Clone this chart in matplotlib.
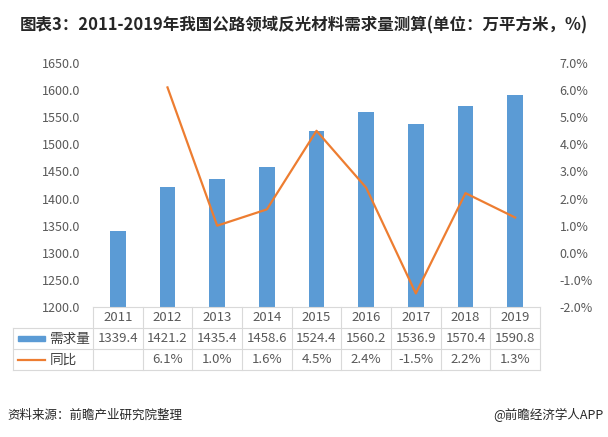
import matplotlib
matplotlib.use('Agg')
import matplotlib.pyplot as plt
import matplotlib.transforms as mtransforms
from matplotlib.patches import Rectangle
from matplotlib.lines import Line2D
import numpy as np

plt.rcParams['font.family'] = ['Noto Sans CJK SC', 'DejaVu Sans']

years = ['2011', '2012', '2013', '2014', '2015', '2016', '2017', '2018', '2019']
demand = [1339.4, 1421.2, 1435.4, 1458.6, 1524.4, 1560.2, 1536.9, 1570.4, 1590.8]
growth = [None, 6.1, 1.0, 1.6, 4.5, 2.4, -1.5, 2.2, 1.3]

BLUE = '#5B9BD5'
ORANGE = '#ED7D31'
GRID = '#D9D9D9'
TXT = '#595959'

W, H = 608, 437
fig = plt.figure(figsize=(W / 100, H / 100), dpi=100)
fig.patch.set_facecolor('white')

# plot area in pixels: x 93..540, y 63..307
ax = fig.add_axes([93 / W, 1 - 307 / H, (540 - 93) / W, (307 - 63) / H])
x = np.arange(len(years))
ax.bar(x, demand, width=0.32, color=BLUE, zorder=2)
ax.set_xlim(-0.5, len(years) - 0.5)
ax.set_ylim(1200, 1650)
ax.set_yticks(np.arange(1200, 1651, 50))
ax.set_yticklabels(['%.1f' % v for v in np.arange(1200, 1651, 50)])
ax.set_xticks([])
ax.tick_params(axis='y', length=0, pad=9, labelsize=9, labelcolor=TXT)
for s in ax.spines.values():
    s.set_visible(False)

ax2 = ax.twinx()
gx = [i for i, g in enumerate(growth) if g is not None]
gy = [g for g in growth if g is not None]
ax2.plot(gx, gy, color=ORANGE, lw=1.6, zorder=3)
ax2.set_ylim(-2, 7)
ax2.set_yticks(np.arange(-2, 7.1, 1))
ax2.set_yticklabels(['%.1f%%' % v for v in np.arange(-2, 7.1, 1)])
ax2.tick_params(axis='y', length=0, pad=14, labelsize=9, labelcolor=TXT)
for s in ax2.spines.values():
    s.set_visible(False)

# data table below the axis
tr = mtransforms.blended_transform_factory(ax.transData, ax.transAxes)
ah = (307 - 63)
rows = [0, -21 / ah, -42 / ah, -63 / ah]
left = -0.5 - 80 / 49.67
right = len(years) - 0.5
kw = dict(transform=tr, clip_on=False, color=GRID, lw=0.8)
ax.add_line(Line2D([-0.5, right], [rows[0], rows[0]], **kw))
for r in rows[1:]:
    ax.add_line(Line2D([left, right], [r, r], **kw))
ax.add_line(Line2D([left, left], [rows[1], rows[3]], **kw))
for i in range(len(years) + 1):
    ax.add_line(Line2D([i - 0.5, i - 0.5], [rows[0], rows[3]], **kw))

def mid(a, b):
    return (a + b) / 2

for i, yr in enumerate(years):
    ax.text(i, mid(rows[0], rows[1]), yr, transform=tr, ha='center', va='center',
            fontsize=9.5, color=TXT, clip_on=False)
    ax.text(i, mid(rows[1], rows[2]), '%.1f' % demand[i], transform=tr, ha='center',
            va='center', fontsize=9.5, color=TXT, clip_on=False)
    if growth[i] is not None:
        ax.text(i, mid(rows[2], rows[3]), '%.1f%%' % growth[i], transform=tr,
                ha='center', va='center', fontsize=9.5, color=TXT, clip_on=False)

# legend keys in the row label column
ry = mid(rows[1], rows[2])
ax.add_patch(Rectangle((left + 0.1, ry - 2.5 / ah), 0.54, 5 / ah, transform=tr,
                       color=BLUE, clip_on=False))
ax.text(left + 0.73, ry, '需求量', transform=tr, ha='left', va='center',
        fontsize=9.8, color='#404040', clip_on=False)
ry = mid(rows[2], rows[3])
ax.add_line(Line2D([left + 0.1, left + 0.64], [ry, ry], transform=tr, color=ORANGE,
                   lw=1.6, clip_on=False))
ax.text(left + 0.73, ry, '同比', transform=tr, ha='left', va='center',
        fontsize=9.8, color='#404040', clip_on=False)

fig.text(20 / W, 1 - 25 / H, '图表3：2011-2019年我国公路领域反光材料需求量测算(单位：万平方米，%)',
         ha='left', va='center', fontsize=11.9, fontweight='bold', color='#262626')
fig.text(7 / W, 1 - 415 / H, '资料来源：前瞻产业研究院整理', ha='left', va='center',
         fontsize=9, color='#262626')
fig.text(603 / W, 1 - 415 / H, '@前瞻经济学人APP', ha='right', va='center',
         fontsize=9, color='#262626')

fig.savefig('out.png', dpi=100)
